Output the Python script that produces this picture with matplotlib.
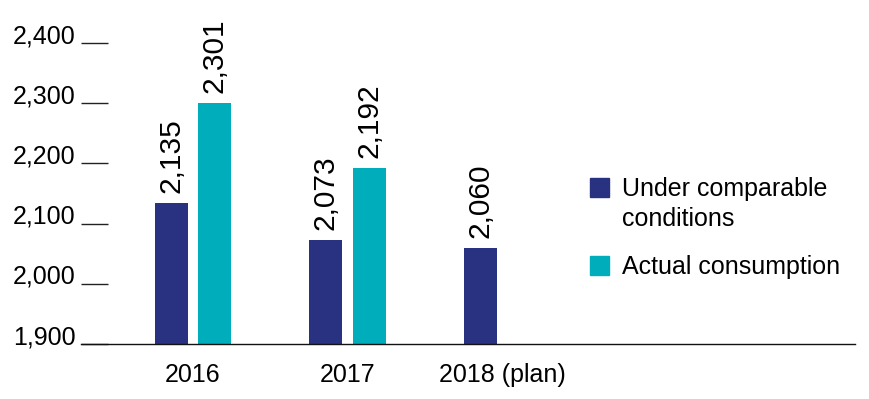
import numpy as np
import matplotlib
matplotlib.use("Agg")
import matplotlib.pyplot as plt
from matplotlib.patches import Rectangle
from matplotlib.ticker import FuncFormatter

years = ["2016", "2017", "2018 (plan)"]
comparable = [2135, 2073, 2060]
actual = [2301, 2192]
series_names = ["Under comparable\nconditions", "Actual consumption"]

navy = "#283280"
teal = "#00AEBB"

plt.rcParams["font.family"] = ["Liberation Sans", "DejaVu Sans"]

W, H = 870, 399
fig = plt.figure(figsize=(W / 100, H / 100), dpi=100)
ax = fig.add_axes([81 / W, 55 / H, (855 - 81) / W, (344 - 43) / H])

x = np.arange(len(years))
width = 0.214
off = 0.141

b1 = ax.bar(x - off, comparable, width, color=navy)
b2 = ax.bar(x[:len(actual)] + off, actual, width, color=teal)

for bars, vals in [(b1, comparable), (b2, actual)]:
    for rect, v in zip(bars, vals):
        ax.annotate(f"{v:,}", (rect.get_x() + rect.get_width() / 2, v),
                    xytext=(0, 7), textcoords="offset points",
                    rotation=90, ha="center", va="bottom", fontsize=21.5,
                    annotation_clip=False)

ax.set_ylim(1900, 2400)
ax.set_xlim(-0.725, 4.285)
ax.set_yticks(np.arange(1900, 2401, 100))
ax.yaxis.set_major_formatter(FuncFormatter(lambda v, p: f"{v:,.0f}"))
ax.tick_params(axis="y", direction="in", length=19.5, width=1.0,
               color="#222222", pad=4, labelsize=18)
for lbl in ax.get_yticklabels():
    lbl.set_verticalalignment("baseline")

ax.set_xticks(x)
ax.set_xticklabels(years)
ax.tick_params(axis="x", length=0, pad=14, labelsize=18)

for s in ["top", "right", "left"]:
    ax.spines[s].set_visible(False)
ax.spines["bottom"].set_color("#111111")
ax.spines["bottom"].set_linewidth(1.0)

# legend drawn by hand so the square sits at the first text line
for col, name, top in [(navy, series_names[0], 178), (teal, series_names[1], 256)]:
    fig.patches.append(Rectangle((590 / W, 1 - (top + 19) / H), 19 / W, 19 / H,
                                 transform=fig.transFigure, color=col))
    fig.text(622 / W, 1 - (top - 1) / H, name, fontsize=18, va="top",
             ha="left", linespacing=1.3)

fig.savefig("out.png", dpi=100)
